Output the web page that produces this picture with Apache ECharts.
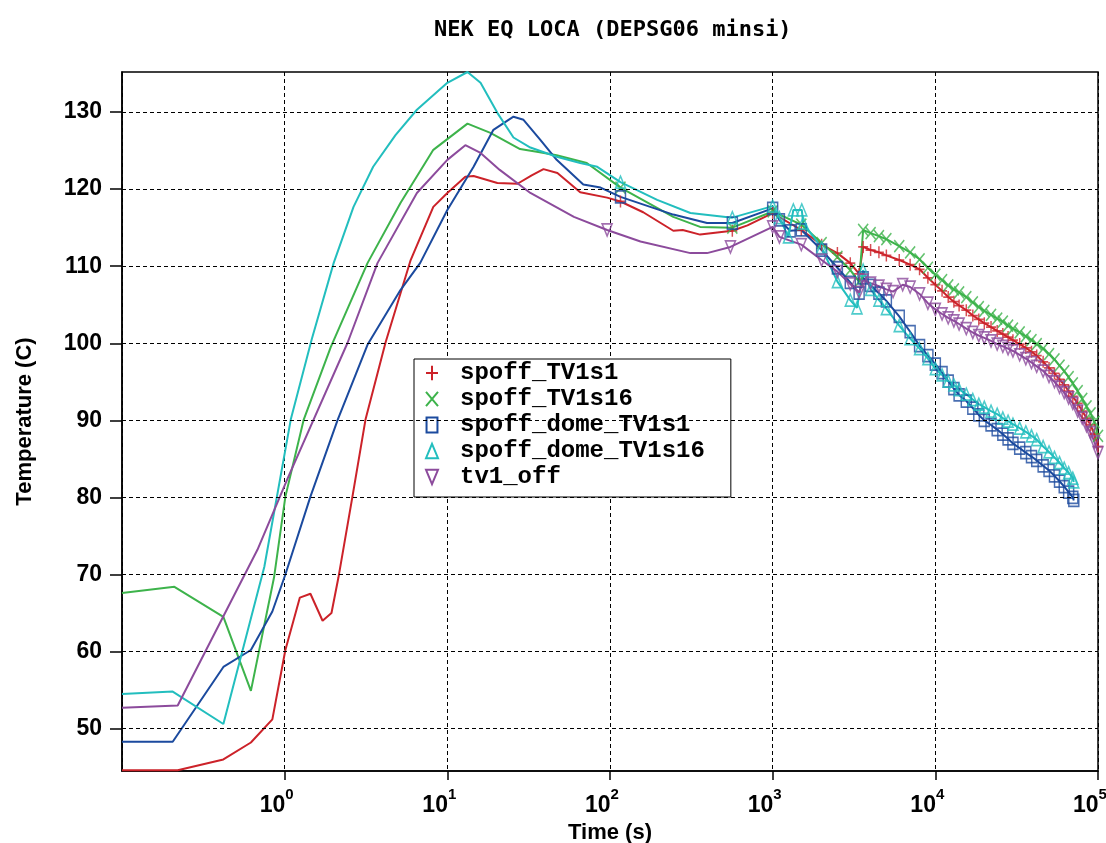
<!DOCTYPE html>
<html lang="en">
<head>
<meta charset="utf-8"/>
<title>NEK EQ LOCA (DEPSG06 minsi)</title>
<script src="https://cdn.jsdelivr.net/npm/echarts@6.0.0/dist/echarts.min.js"></script>
<style>
    html, body {
        margin: 0;
        height: 100%;
        background: #fff;
    }

    #chart {
        width: 1106px;
        height: 843px;
    }
</style>
</head>
<body>
<div id="chart"></div>
<script>
    // [time (s), temperature (C)]
    const names = ["spoff_TV1s1", "spoff_TV1s16", "spoff_dome_TV1s1", "spoff_dome_TV1s16", "tv1_off"];
    const colors = ["#cc2229", "#3db34b", "#1b4a9e", "#22bebe", "#8c4b9c"];

    const spoffTV1s1 = [[0.1,44.6],[0.22,44.6],[0.42,46.0],[0.62,48.2],[0.84,51.2],[1.01,60.2],[1.24,67.0],[1.44,67.5],[1.71,64.0],[1.94,65.0],[2.14,69.6],[2.61,80.1],[3.14,90.1],[4.17,100.1],[5.95,110.8],[8.2,117.7],[10,119.5],[12.9,121.6],[14.5,121.7],[20.3,120.8],[27,120.7],[33,121.8],[39,122.6],[47.5,122.1],[65.6,119.6],[96,118.9],[116,118.4],[160,117.0],[245,114.6],[280,114.7],[358,114.1],[565,114.6],[700,115.3],[1000,116.9],[1500,114.7],[2000,112.8],[2500,111.7],[3000,110.4],[3400,109.0],[3600,112.5],[4000,112.1],[4500,111.8],[5000,111.4],[6000,110.8],[7000,110.2],[8000,109.6],[9000,108.5],[10000,107.6],[11000,106.8],[12000,106.0],[13000,105.4],[14000,104.9],[15500,104.3],[17000,103.6],[18500,103.1],[20000,102.6],[22000,102.1],[24000,101.6],[26000,101.2],[28000,100.8],[30000,100.4],[33000,99.9],[36000,99.4],[39000,98.9],[42000,98.4],[46000,97.6],[50000,96.8],[54000,96.1],[58000,95.3],[62000,94.6],[66000,93.8],[70000,93.1],[75000,92.2],[80000,91.2],[85000,90.3],[90000,89.4],[95000,88.2],[100000,86.6]];
    const spoffTV1s16 = [[0.1,67.6],[0.21,68.4],[0.42,64.5],[0.62,54.9],[0.86,69.6],[1.01,80.1],[1.31,90.1],[1.92,99.5],[3.23,110.4],[5.15,118.2],[8.2,125.1],[13.3,128.5],[18.4,127.3],[28,125.2],[37,124.8],[47,124.4],[72,123.4],[116,120.2],[245,116.4],[358,115.1],[565,115.0],[1000,117.1],[1500,115.4],[2000,113.0],[2500,111.2],[3000,109.5],[3400,108.0],[3600,114.7],[4000,114.3],[4500,113.9],[5000,113.5],[6000,112.6],[7000,111.8],[8000,110.9],[9000,109.8],[10000,108.9],[11000,108.2],[12000,107.5],[13000,107.0],[14000,106.6],[15500,106.0],[17000,105.3],[18500,104.7],[20000,104.2],[22000,103.7],[24000,103.2],[26000,102.8],[28000,102.3],[30000,101.9],[33000,101.4],[36000,100.9],[39000,100.4],[42000,99.9],[46000,99.3],[50000,98.6],[54000,97.9],[58000,97.1],[62000,96.4],[66000,95.6],[70000,94.8],[75000,93.8],[80000,92.8],[85000,91.8],[90000,90.9],[95000,89.8],[100000,88.0]];
    const spoffDomeTV1s1 = [[0.1,48.3],[0.205,48.3],[0.42,58.0],[0.62,60.2],[0.84,65.2],[1.01,70.0],[1.44,80.1],[2.12,90.1],[3.23,99.8],[5.15,106.9],[6.8,110.4],[10,117.3],[14.5,122.9],[19.2,127.7],[25.5,129.4],[29.4,129.0],[37.3,126.4],[47,123.8],[68.5,120.6],[87.5,120.2],[116,119.0],[245,116.7],[395,115.6],[565,115.6],[1000,117.5],[1100,116.0],[1280,114.6],[1500,114.7],[2000,112.1],[2500,109.8],[3000,107.9],[3400,106.5],[3600,108.5],[4000,107.5],[4500,106.5],[5000,105.5],[6000,103.5],[7000,101.5],[8000,99.7],[9000,98.4],[10000,97.3],[11000,96.2],[12000,95.1],[13000,94.1],[14000,93.3],[15500,92.5],[17000,91.6],[18500,90.7],[20000,90.0],[22000,89.4],[24000,88.8],[26000,88.2],[28000,87.6],[30000,87.0],[33000,86.4],[36000,85.8],[39000,85.3],[42000,84.8],[46000,84.1],[50000,83.5],[54000,82.8],[58000,82.1],[62000,81.4],[66000,80.7],[70000,80.0],[71000,79.6]];
    const spoffDomeTV1s16 = [[0.1,54.5],[0.205,54.8],[0.42,50.6],[0.75,71.0],[1.09,90.1],[1.47,100.6],[2.0,110.4],[2.65,117.7],[3.5,122.9],[4.8,127.0],[6.5,130.3],[10,133.8],[13.3,135.2],[16,133.8],[20.3,129.9],[25.5,126.7],[32.4,125.4],[47,124.2],[65.6,123.4],[83.5,122.9],[116,120.9],[195,118.6],[312,116.9],[565,116.3],[1000,117.8],[1100,116.3],[1250,113.8],[1340,117.3],[1510,117.3],[1540,115.6],[2000,112.4],[2500,108.0],[3000,105.6],[3300,104.6],[3600,109.5],[4000,107.0],[4500,105.6],[5000,104.5],[6000,102.3],[7000,100.6],[8000,99.3],[9000,98.0],[10000,96.7],[11000,95.9],[12000,95.1],[13000,94.6],[14000,94.0],[15500,93.4],[17000,92.7],[18500,92.1],[20000,91.7],[22000,91.2],[24000,90.8],[26000,90.3],[28000,89.9],[30000,89.5],[33000,89.0],[36000,88.5],[39000,88.0],[42000,87.5],[46000,86.6],[50000,85.9],[54000,85.2],[58000,84.5],[62000,83.8],[66000,83.2],[70000,82.5],[71000,82.0]];
    const tv1Off = [[0.1,52.7],[0.22,53.0],[0.68,73.2],[1.04,82.4],[2.44,100.1],[3.72,110.4],[6.5,119.5],[10,123.8],[12.9,125.7],[16,124.7],[21,122.5],[32.4,119.5],[60,116.4],[96,114.7],[154,113.2],[312,111.7],[395,111.7],[550,112.5],[1000,115.1],[1100,113.8],[1500,112.8],[2000,110.8],[2500,109.3],[3000,107.7],[3400,106.6],[3600,108.2],[4000,107.8],[4500,107.4],[5000,107.0],[5500,106.7],[6300,107.6],[7000,107.3],[8000,106.4],[9000,105.2],[10000,104.4],[11000,103.8],[12000,103.3],[13000,102.9],[14000,102.5],[15500,101.9],[17000,101.4],[18500,101.0],[20000,100.7],[22000,100.3],[24000,99.9],[26000,99.6],[28000,99.3],[30000,99.0],[33000,98.5],[36000,98.0],[39000,97.5],[42000,97.0],[46000,96.4],[50000,95.7],[54000,95.0],[58000,94.3],[62000,93.6],[66000,92.9],[70000,92.2],[75000,91.2],[80000,90.3],[85000,89.3],[90000,88.4],[95000,87.2],[100000,85.8]];

    // markers drawn before 1000 s (later on every curve point)
    const earlyMarkers = [
        [[116,118.4],[565,114.6]],
        [[116,120.2],[565,115.0]],
        [[116,119.0],[565,115.6]],
        [[116,120.9],[565,116.3]],
        [[96,114.7],[550,112.5]]
    ];
    const yTicks = [50, 60, 70, 80, 90, 100, 110, 120, 130];

    const curves = [spoffTV1s1, spoffTV1s16, spoffDomeTV1s1, spoffDomeTV1s16, tv1Off];
    const symbols = [
        "path://M5,0L5,12M0,6L10,6",
        "path://M0,0L10,12M10,0L0,12",
        "path://M0,0L8,0L8,11L0,11Z",
        "path://M5,0L10,12L0,12Z",
        "path://M0,0L10,0L5,12Z"
    ];

    const series = [{
        type: "line",
        data: [],
        z: 1,
        silent: true,
        markLine: {
            silent: true,
            animation: false,
            symbol: ["none", "none"],
            label: {show: false},
            lineStyle: {color: "#000", type: [4, 3], width: 1},
            data: yTicks.map(v => ({yAxis: v}))
        }
    }];
    curves.forEach((curve, i) => {
        series.push({
            name: names[i],
            type: "line",
            data: curve,
            symbol: "none",
            z: 3,
            lineStyle: {color: colors[i], width: 2}
        });
        series.push({
            name: names[i],
            type: "scatter",
            data: earlyMarkers[i].concat(curve.filter(p => p[0] >= 1000)),
            symbol: symbols[i],
            symbolSize: [10, 12],
            z: 3,
            itemStyle: {color: "rgba(0,0,0,0)", borderColor: colors[i], borderWidth: 1.6}
        });
    });

    const chart = echarts.init(document.getElementById("chart"));
    chart.setOption({
        animation: false,
        backgroundColor: "#fff",
        title: {
            text: "NEK EQ LOCA (DEPSG06 minsi)",
            left: 434,
            top: 19,
            padding: 0,
            textStyle: {fontFamily: "DejaVu Sans Mono", fontWeight: "bold", fontSize: 22, color: "#000"}
        },
        grid: {
            left: 122, right: 8, top: 72, bottom: 72,
            outerBoundsMode: "none",
            show: true, borderColor: "#000", borderWidth: 1.5
        },
        legend: {
            orient: "vertical",
            left: 414,
            top: 359,
            padding: [2, 26, 8, 11],
            itemGap: 2,
            itemWidth: 12,
            itemHeight: 15,
            backgroundColor: "#fff",
            borderColor: "#000",
            borderWidth: 1,
            borderRadius: 0,
            textStyle: {
                fontFamily: "Liberation Mono", fontWeight: "bold", fontSize: 24,
                color: "#000", lineHeight: 20, padding: [0, 0, 0, 17]
            },
            data: names.map((n, i) => ({
                name: n,
                icon: symbols[i],
                itemStyle: {color: "rgba(0,0,0,0)", borderColor: colors[i], borderWidth: 2}
            }))
        },
        xAxis: {
            type: "log",
            logBase: 10,
            min: 0.1,
            max: 100000,
            name: "Time (s)",
            nameLocation: "middle",
            nameGap: 50,
            nameTextStyle: {fontFamily: "Liberation Sans", fontWeight: "bold", fontSize: 22, color: "#000"},
            axisLine: {lineStyle: {color: "#000", width: 1.5}},
            axisTick: {show: true, length: 9, lineStyle: {color: "#000", width: 1.5}},
            splitLine: {show: true, lineStyle: {color: "#000", type: [4, 3], width: 1}},
            axisLabel: {
                showMinLabel: false,
                margin: 16,
                padding: [0, 16, 0, 0],
                formatter: v => "{b|10}{s|" + Math.round(Math.log10(v)) + "}",
                rich: {
                    b: {fontFamily: "Liberation Sans", fontWeight: "bold", fontSize: 23, lineHeight: 26, padding: [12, 0, 0, 0], color: "#000"},
                    s: {fontFamily: "Liberation Sans", fontWeight: "bold", fontSize: 15, lineHeight: 15, verticalAlign: "top", color: "#000"}
                }
            }
        },
        yAxis: {
            type: "value",
            min: 44.5,
            max: 135.2,
            name: "Temperature (C)",
            nameLocation: "middle",
            nameRotate: 90,
            nameGap: 86,
            nameTextStyle: {fontFamily: "Liberation Sans", fontWeight: "bold", fontSize: 22, color: "#000"},
            axisLine: {show: true, lineStyle: {color: "#000", width: 1.5}},
            axisTick: {show: true, length: 12, customValues: yTicks, lineStyle: {color: "#000", width: 1.5}},
            splitLine: {show: false},
            axisLabel: {
                customValues: yTicks,
                margin: 20,
                fontFamily: "Liberation Sans", fontWeight: "bold", fontSize: 23, color: "#000"
            }
        },
        series: series
    });
    window.addEventListener("resize", function () {
        chart.resize();
    });
</script>
</body>
</html>
